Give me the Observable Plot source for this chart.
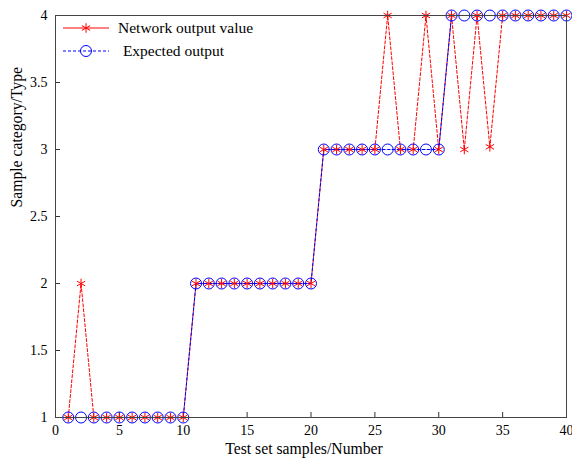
<!DOCTYPE html>
<html>
<head>
<meta charset="utf-8">
<script src="https://cdn.jsdelivr.net/npm/d3@7"></script>
<script src="https://cdn.jsdelivr.net/npm/@observablehq/plot@0.6"></script>
<style>
  html, body { margin: 0; padding: 0; background: #fff; }
  svg { font-family: "Liberation Serif", "DejaVu Serif", serif; }
</style>
</head>
<body>
<div id="chart"></div>
<script>
const samples = d3.range(1, 41);
const networkOutput = [1,2,1,1,1,1,1,1,1,1, 2,2,2,2,2,2,2,2,2,2, 3,3,3,3,3,4,3,3,4,3, 4,3,4,3.02,4,4,4,4,4,4];
const expectedOutput = [1,1,1,1,1,1,1,1,1,1, 2,2,2,2,2,2,2,2,2,2, 3,3,3,3,3,3,3,3,3,3, 4,4,4,4,4,4,4,4,4,4];
const xTicks = [0,5,10,15,20,25,30,35,40];
const yTicks = [1,1.5,2,2.5,3,3.5,4];
const seriesNames = ["Network output value", " Expected output"];

const net = samples.map((s, i) => ({x: s, y: networkOutput[i]}));
const exp = samples.map((s, i) => ({x: s, y: expectedOutput[i]}));

const W = 572, H = 461;
const mL = 55, mR = 6, mT = 15, mB = 44;
const pw = W - mL - mR, ph = H - mT - mB;
const tickLen = 5;

const plot = Plot.plot({
  width: W, height: H,
  marginLeft: mL, marginRight: mR, marginTop: mT, marginBottom: mB,
  style: {fontFamily: '"Liberation Serif", serif', fontSize: "14px", color: "#000", background: "#fff", overflow: "visible"},
  x: {domain: [0, 40]},
  y: {domain: [1, 4]},
  marks: [
    Plot.axisX(xTicks, {tickSize: 0, tickPadding: 8, fontSize: 14, label: null, tickFormat: d => String(d)}),
    Plot.axisY(yTicks, {tickSize: 0, tickPadding: 8, fontSize: 14, label: null, tickFormat: d => String(d)}),
    Plot.text(["Test set samples/Number"], {frameAnchor: "bottom", dx: -7, dy: 36, fontSize: 15.7, fill: "#000"}),
    Plot.text(["Sample category/Type"], {frameAnchor: "left", dx: -39, dy: -9, rotate: -90, fontSize: 15.7, fill: "#000"}),
    Plot.tickX(xTicks, {x: d => d, insetTop: ph - tickLen, stroke: "#333", strokeWidth: 1}),
    Plot.tickY(yTicks, {y: d => d, insetRight: pw - tickLen, stroke: "#333", strokeWidth: 1}),
    Plot.line(net, {x: "x", y: "y", stroke: "#ff0000", strokeWidth: 1, strokeDasharray: "3,2"}),
    Plot.line(exp, {x: "x", y: "y", stroke: "#0000ff", strokeWidth: 1, strokeDasharray: "3,2", strokeDashoffset: 2.5}),
    Plot.dot(net, {x: "x", y: "y", symbol: "asterisk", r: 4.5, stroke: "#ff0000", strokeWidth: 1}),
    Plot.dot(exp, {x: "x", y: "y", symbol: "circle", r: 5.5, stroke: "#0000ff", fill: "none", strokeWidth: 1}),
    Plot.frame({stroke: "#444", strokeWidth: 1})
  ]
});

// Legend (inside top-left of the plot area)
const svg = d3.select(plot);
const lg = svg.append("g").attr("font-family", '"Liberation Serif", serif').attr("font-size", 15.5).attr("text-anchor", "start");
const lx1 = mL + 8, lx2 = mL + 54, lxm = (lx1 + lx2) / 2;
const rows = [
  {y: mT + 13, color: "#ff0000", dash: null, sym: d3.symbolAsterisk, r: 4.5, text: seriesNames[0], tx: mL + 63},
  {y: mT + 36, color: "#0000ff", dash: "3,2", sym: d3.symbolCircle, r: 5.5, text: seriesNames[1], tx: mL + 64}
];
rows.forEach(r => {
  lg.append("line").attr("x1", lx1).attr("x2", lx2).attr("y1", r.y).attr("y2", r.y)
    .attr("stroke", r.color).attr("stroke-width", 1).attr("stroke-dasharray", r.dash);
  lg.append("path").attr("d", d3.symbol(r.sym, Math.PI * r.r * r.r)())
    .attr("transform", `translate(${lxm},${r.y})`)
    .attr("fill", "none").attr("stroke", r.color).attr("stroke-width", 1);
  lg.append("text").attr("x", r.tx).attr("y", r.y).attr("dy", "0.35em").attr("fill", "#000")
    .attr("text-anchor", "start").style("white-space", "pre").text(r.text);
});

document.getElementById("chart").appendChild(plot);
</script>
</body>
</html>
